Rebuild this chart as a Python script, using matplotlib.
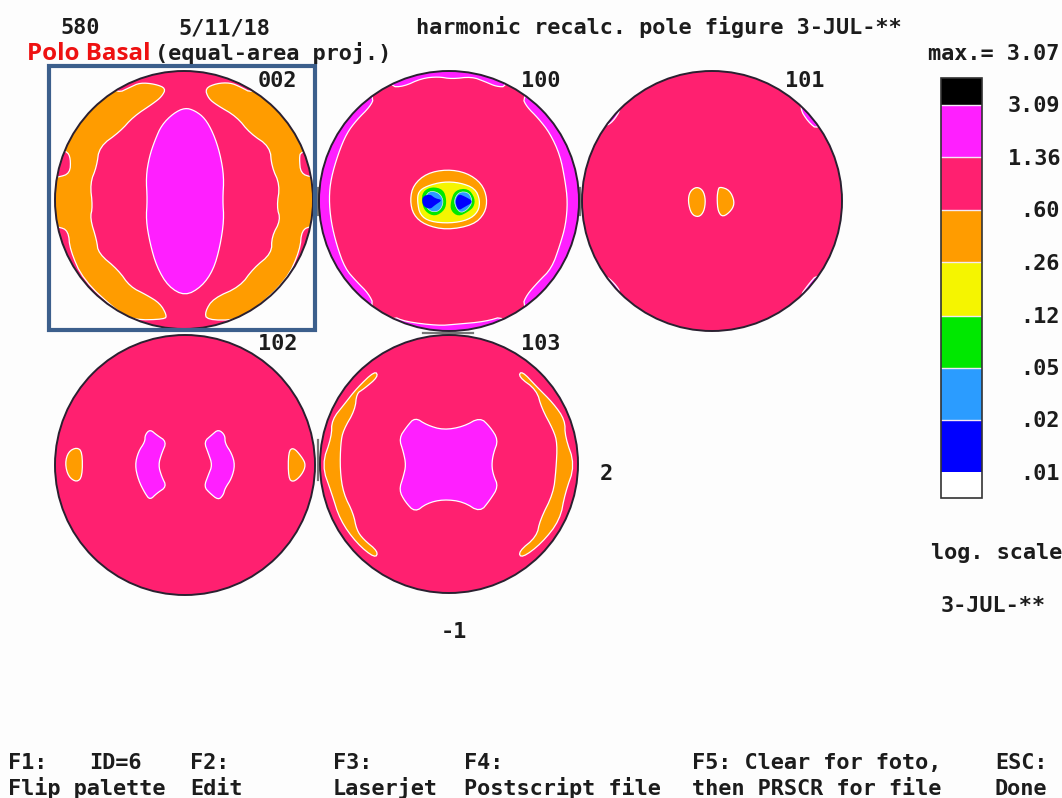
import matplotlib
matplotlib.use('Agg')
import matplotlib.pyplot as plt
from matplotlib.patches import Circle, Polygon, Rectangle

# palette, top of the scale first
bar_colors = ['#000000', '#ff1fff', '#ff2070', '#ff9c00', '#f5f500', '#00e800', '#2b9cff', '#0000ff', '#ffffff']
bar_edges = [78, 105, 157, 210, 262, 316, 368, 420, 472, 498]
scale_labels = ['3.09', '1.36', '.60', '.26', '.12', '.05', '.02', '.01']
scale_base = [112, 165, 217, 270, 323, 375, 427, 480]

MAGENTA = bar_colors[1]
PINK = bar_colors[2]
ORANGE = bar_colors[3]
YELLOW = bar_colors[4]
GREEN = bar_colors[5]
LBLUE = bar_colors[6]
BLUE = bar_colors[7]

# pole figures: centre x, centre y, radius, name, name x, name baseline
pole_names = ['002', '100', '101', '102', '103']
pole_cx = [184, 449, 712, 185, 449]
pole_cy = [200, 201, 201, 465, 464]
pole_r = [129, 130, 130, 130, 129]
name_x = [258, 521, 785, 258, 521]
name_y = [87, 87, 87, 350, 350]

# grey stubs left between the discs
stub_x = [(318, 318), (580, 580), (318, 318), (423, 473)]
stub_y = [(188, 215), (188, 215), (440, 480), (333, 333)]

p002_magenta = [(435,143),(400,160),(365,195),(345,240),(328,290),(318,350),(322,420),(318,480),(330,550),(350,620),(385,680),(435,708),(485,680),(520,630),(540,560),(552,480),(548,420),(552,350),(540,280),(520,220),(495,175),(465,152)]
p002_orange_l = [(378,85),(345,72),(300,68),(270,82),(232,100),(190,60),(20,260),(80,272),(92,295),(90,340),(55,352),(15,352),(15,500),(55,500),(85,512),(90,570),(130,660),(230,752),(280,780),(375,778),(380,765),(360,730),(320,705),(270,680),(235,630),(175,580),(170,540),(150,475),(158,440),(150,370),(170,320),(178,260),(240,215),(280,170),(340,130),(365,110)]
p002_orange_r = [(495,85),(530,70),(570,68),(600,80),(637,100),(680,60),(850,260),(782,275),(778,295),(782,340),(815,352),(850,352),(850,500),(815,498),(785,510),(780,570),(740,660),(640,752),(590,780),(500,780),(495,755),(520,715),(600,680),(640,625),(695,580),(695,530),(722,480),(710,440),(720,375),(695,320),(690,260),(630,220),(590,170),(530,135),(505,115)]

p100_arc_l = [(178,97),(165,125),(125,165),(95,205),(70,265),(48,340),(42,400),(48,470),(65,540),(90,610),(125,650),(160,685),(178,722),(120,800),(-30,600),(-30,200),(120,20)]
p100_arc_r = [(622,97),(635,125),(670,160),(705,205),(735,270),(750,345),(758,410),(752,480),(735,540),(710,610),(670,650),(635,690),(622,722),(690,800),(840,600),(840,200),(690,20)]
p100_arc_t = [(225,65),(265,65),(320,40),(370,35),(410,42),(470,35),(510,50),(545,65),(575,65),(575,-10),(225,-10)]
p100_arc_b = [(230,752),(270,770),(370,782),(420,778),(510,770),(570,752),(570,830),(230,830)]

centre_orange = [(30,120),(40,75),(80,40),(140,28),(200,38),(245,70),(262,115),(255,160),(220,195),(140,210),(75,195),(40,165)]
centre_yellow = [(52,125),(55,95),(80,78),(130,65),(180,68),(225,85),(240,120),(235,155),(205,180),(150,190),(90,185),(60,165)]
centre_green_l = [(65,125),(68,95),(95,80),(130,88),(140,120),(135,150),(105,170),(75,155)]
centre_green_r = [(152,125),(165,90),(205,85),(225,115),(222,140),(205,155),(175,170),(152,152)]
centre_lblue_l = [(72,125),(85,92),(118,98),(132,125),(118,155),(88,155)]
centre_lblue_r = [(160,125),(176,95),(207,97),(218,125),(202,150),(178,160)]
centre_blue_l = [(66,110),(90,102),(105,115),(128,120),(105,135),(90,148),(68,138)]
centre_blue_r = [(165,125),(175,102),(192,108),(222,125),(192,142),(175,152)]

p101_orange_l = [(330,410),(335,380),(355,365),(375,375),(383,405),(378,440),(362,457),(340,448)]
p101_orange_r = [(420,375),(425,365),(455,375),(470,410),(462,435),(435,457),(420,440),(417,400)]
p101_corners = [
    [(130,130),(105,170),(80,185),(60,120),(120,90)],
    [(665,130),(690,170),(720,195),(760,130),(680,90)],
    [(80,630),(110,655),(130,685),(90,740),(40,660)],
    [(665,695),(690,660),(720,625),(770,670),(690,750)],
]

p102_orange_l = [(45,400),(55,365),(80,352),(97,365),(97,440),(80,457),(55,440)]
p102_orange_r = [(715,365),(730,352),(755,380),(768,405),(755,435),(730,457),(715,445)]
p102_magenta_l = [(300,298),(320,315),(350,335),(335,370),(325,405),(335,440),(350,470),(320,490),(300,510),(285,490),(265,450),(255,405),(265,365),(285,335),(285,315)]
p102_magenta_r = [(505,298),(525,315),(525,340),(545,370),(555,405),(545,445),(525,475),(520,495),(505,510),(480,490),(462,470),(475,435),(487,405),(475,370),(462,335),(485,315)]

p103_magenta = [(285,262),(320,285),(370,300),(430,290),(480,262),(510,290),(535,330),(520,370),(515,405),(520,435),(535,470),(510,510),(480,547),(430,515),(370,508),(320,520),(285,547),(255,515),(237,480),(250,440),(258,405),(250,365),(237,325),(260,290)]
p103_orange_l = [(165,122),(175,140),(130,178),(110,190),(105,240),(70,300),(62,340),(60,420),(70,490),(100,550),(110,600),(130,628),(175,665),(165,685),(110,640),(60,570),(35,490),(5,405),(35,320),(35,270),(75,220),(110,175)]
p103_orange_r = [(605,122),(595,140),(650,180),(665,235),(700,300),(712,340),(708,420),(700,490),(660,570),(650,620),(595,665),(605,685),(665,640),(720,570),(735,490),(765,405),(735,320),(735,270),(700,220),(650,170)]

fig = plt.figure(figsize=(10.62, 7.98), dpi=100, facecolor='#fdfdfd')
ax = fig.add_axes([0, 0, 1, 1])
ax.set_xlim(0, 1062)
ax.set_ylim(798, 0)
ax.axis('off')


def crop(points, x0, y0):
    # crop coordinates were read at 3x
    return [(x0 + x / 3, y0 + y / 3) for x, y in points]


def round_off(points, passes=2):
    # cut the corners so outlines are not so angular
    for _ in range(passes):
        out = []
        for i, (x, y) in enumerate(points):
            nx, ny = points[(i + 1) % len(points)]
            out.append((0.75 * x + 0.25 * nx, 0.75 * y + 0.25 * ny))
            out.append((0.25 * x + 0.75 * nx, 0.25 * y + 0.75 * ny))
        points = out
    return points


def contour(points, x0, y0, color, clip, line='white', z=3, lw=0.9):
    poly = Polygon(round_off(crop(points, x0, y0)), closed=True, facecolor=color, edgecolor=line, linewidth=lw, zorder=z)
    ax.add_patch(poly)
    poly.set_clip_path(clip)


discs = []
for cx, cy, r in zip(pole_cx, pole_cy, pole_r):
    disc = Circle((cx, cy), r, facecolor=PINK, edgecolor='none', zorder=2)
    ax.add_patch(disc)
    discs.append(disc)
    ax.add_patch(Circle((cx, cy), r, facecolor='none', edgecolor='#2a2030', linewidth=1.4, zorder=6))

for sx, sy in zip(stub_x, stub_y):
    ax.plot(sx, sy, color='#777777', linewidth=1.6, zorder=1)

contour(p002_orange_l, 40, 60, ORANGE, discs[0])
contour(p002_orange_r, 40, 60, ORANGE, discs[0])
contour(p002_magenta, 40, 60, MAGENTA, discs[0])

for arc in [p100_arc_l, p100_arc_r, p100_arc_t, p100_arc_b]:
    contour(arc, 315, 65, MAGENTA, discs[1])
contour(centre_orange, 400, 160, ORANGE, discs[1], z=3)
contour(centre_yellow, 400, 160, YELLOW, discs[1], z=3.1)
contour(centre_green_l, 400, 160, GREEN, discs[1], line='none', z=3.2)
contour(centre_green_r, 400, 160, GREEN, discs[1], line='none', z=3.2)
contour(centre_lblue_l, 400, 160, LBLUE, discs[1], line='#d8f0f0', z=3.3, lw=0.5)
contour(centre_lblue_r, 400, 160, LBLUE, discs[1], line='#d8f0f0', z=3.3, lw=0.5)
contour(centre_blue_l, 400, 160, BLUE, discs[1], line='none', z=3.4)
contour(centre_blue_r, 400, 160, BLUE, discs[1], line='none', z=3.4)

contour(p101_orange_l, 578, 65, ORANGE, discs[2])
contour(p101_orange_r, 578, 65, ORANGE, discs[2])
for corner in p101_corners:
    contour(corner, 578, 65, MAGENTA, discs[2])

contour(p102_orange_l, 50, 330, ORANGE, discs[3])
contour(p102_orange_r, 50, 330, ORANGE, discs[3])
contour(p102_magenta_l, 50, 330, MAGENTA, discs[3])
contour(p102_magenta_r, 50, 330, MAGENTA, discs[3])

contour(p103_magenta, 320, 330, MAGENTA, discs[4])
contour(p103_orange_l, 320, 330, ORANGE, discs[4])
contour(p103_orange_r, 320, 330, ORANGE, discs[4])

# scale bar
for i, c in enumerate(bar_colors):
    ax.add_patch(Rectangle((941, bar_edges[i]), 41, bar_edges[i + 1] - bar_edges[i], facecolor=c, edgecolor='none', zorder=2))
    if 0 < i < len(bar_colors) - 1:
        ax.plot([941, 982], [bar_edges[i], bar_edges[i]], color='#f4e8f4', linewidth=1.0, zorder=3)
ax.add_patch(Rectangle((941, 78), 41, 420, facecolor='none', edgecolor='#333333', linewidth=1.2, zorder=4))

# blue box round the basal pole
ax.add_patch(Rectangle((49, 66), 266, 264, facecolor='none', edgecolor='#3c5f8c', linewidth=3.0, zorder=7))

mono = dict(family='DejaVu Sans Mono', fontsize=15.75, color='#1c1c1c', va='baseline', zorder=8, fontweight='bold')


def label(x, y, s, **kw):
    ax.text(x, y, s, **{**mono, **kw})


label(60, 34, '580')
label(178, 34, '5/11/18')
label(416, 34, 'harmonic recalc. pole figure 3-JUL-**')
label(155, 60, '(equal-area proj.)')
label(928, 60, 'max.= 3.07')
for name, x, y in zip(pole_names, name_x, name_y):
    label(x, y, name)
for s, y in zip(scale_labels, scale_base):
    label(1060, y, s, ha='right')
label(931, 559, 'log. scale')
label(941, 612, '3-JUL-**')
label(441, 638, '-1')
label(600, 480, '2')

label(8, 769, 'F1:')
label(89, 769, 'ID=6')
label(190, 769, 'F2:')
label(333, 769, 'F3:')
label(464, 769, 'F4:')
label(692, 769, 'F5: Clear for foto,')
label(995, 769, 'ESC:')
label(8, 795, 'Flip palette')
label(190, 795, 'Edit')
label(333, 795, 'Laserjet')
label(464, 795, 'Postscript file')
label(692, 795, 'then PRSCR for file')
label(995, 795, 'Done')

ax.text(27, 60, 'Polo Basal', family='Open Sans', fontweight='bold', fontsize=17.4, color='#ee1111', va='baseline', zorder=9)

fig.savefig('out.png', dpi=100, facecolor=fig.get_facecolor())
